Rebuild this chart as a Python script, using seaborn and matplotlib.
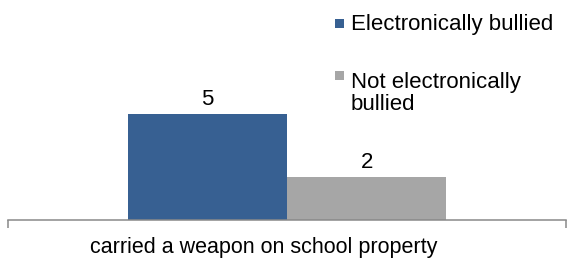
import matplotlib
matplotlib.use("Agg")
import matplotlib.pyplot as plt
import matplotlib.transforms as mtransforms
import seaborn as sns
import pandas as pd
from matplotlib.patches import Rectangle

# | Data |
categories = ["carried a weapon on school property"]
groups = ["Electronically bullied", "Not electronically\nbullied"]
values = [5, 2]

BLUE = "#376092"
GRAY = "#A6A6A6"
AXIS_GRAY = "#898989"

W, H = 567, 263

df = pd.DataFrame({
    "category": categories * len(groups),
    "group": groups,
    "value": values,
})

sns.set_theme(style="white")
plt.rcParams["font.family"] = ["Liberation Sans", "DejaVu Sans"]
plt.rcParams["font.size"] = 16

fig = plt.figure(figsize=(W / 100, H / 100), dpi=100)
ax = fig.add_axes([8 / W, (H - 219.5) / H, 558 / W, 219.5 / H])

sns.barplot(data=df, x="category", y="value", hue="group", palette=[BLUE, GRAY],
            saturation=1, width=0.8, ax=ax, legend=False, linewidth=0)

for cont in ax.containers:
    ax.bar_label(cont, padding=3, fontsize=16, color="black")

ax.set_xlim(-0.7, 0.7)
ax.set_ylim(0, 10.4)
ax.set_xlabel("")
ax.set_ylabel("")
ax.set_yticks([])

for side in ["top", "left", "right"]:
    ax.spines[side].set_visible(False)
ax.spines["bottom"].set_color(AXIS_GRAY)
ax.spines["bottom"].set_linewidth(1.1)

ax.tick_params(axis="x", which="major", bottom=True, length=0, pad=12.5,
               labelsize=15.5, labelcolor="black")
ax.set_xticks([-0.7, 0.7], minor=True)
ax.tick_params(axis="x", which="minor", bottom=True, direction="out", length=5.5,
               width=1.1, color=AXIS_GRAY)

# Excel puts the category label a bit left of the group centre
shift = mtransforms.ScaledTranslation(-23 / 100, 0, fig.dpi_scale_trans)
for lbl in ax.get_xticklabels():
    lbl.set_transform(lbl.get_transform() + shift)

# legend drawn in figure pixels
for (y0, col) in [(18.5, BLUE), (70.5, GRAY)]:
    fig.add_artist(Rectangle((335 / W, 1 - (y0 + 9) / H), 9 / W, 9 / H,
                             transform=fig.transFigure, facecolor=col, edgecolor="none"))
fig.text(351 / W, 1 - 30 / H, groups[0], va="baseline", ha="left", fontsize=16, color="black")
fig.text(351 / W, 1 - 110 / H, groups[1], va="baseline", ha="left", fontsize=16,
         color="black", linespacing=1.07)

fig.savefig("out.png", dpi=100)
